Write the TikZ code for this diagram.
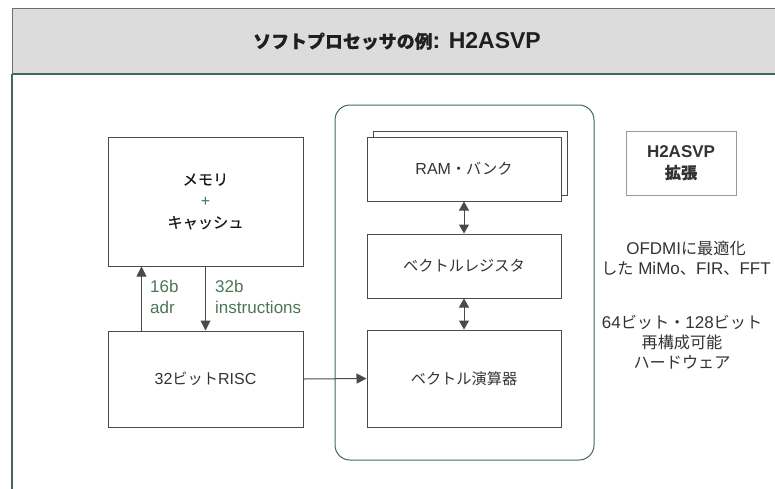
\documentclass[tikz,border=0pt]{standalone}
\usepackage{fontspec}
\setmainfont{Liberation Sans}
\newfontfamily\jpfont{Noto Sans CJK JP}[Scale=0.95]
\newfontfamily\jpstrong{Noto Sans CJK JP}[Scale=0.95, FakeBold=0.3]
\newfontfamily\jpbig{Noto Sans CJK JP}[Scale=0.78, FakeBold=0.45]
\newcommand\J[1]{{\jpfont #1}}
\usetikzlibrary{arrows.meta,calc}

\definecolor{hdrfill}{HTML}{DCDCDC}
\definecolor{hdrline}{HTML}{6E6E6E}
\definecolor{frame}{HTML}{416B50}
\definecolor{boxline}{HTML}{4A4A4A}
\definecolor{txt}{HTML}{333333}
\definecolor{lbl}{HTML}{4B7656}
\definecolor{lightbox}{HTML}{9A9A9A}

\tikzset{
  unitbox/.style={draw=boxline, line width=1pt, fill=white, inner sep=0pt,
    align=center, text=txt, font=\fontsize{16}{21.5}\selectfont},
  conn/.style={draw=boxline, line width=1pt,
    -{Triangle[length=10pt,width=10pt]}},
  biconn/.style={draw=boxline, line width=1pt,
    {Triangle[length=9pt,width=10pt]}-{Triangle[length=9pt,width=10pt]}},
  buslabel/.style={anchor=west, align=left, text=lbl, inner sep=0pt,
    font=\fontsize{17}{21}\selectfont},
  note/.style={align=center, text=txt, inner sep=0pt,
    font=\fontsize{17}{20}\selectfont},
}

\begin{document}
\begin{tikzpicture}[x=1pt,y=-1pt]
  \useasboundingbox (0,0) rectangle (775,488);

  % page frame and title bar
  \node[draw=hdrline, fill=hdrfill, line width=1pt, inner sep=0pt,
        minimum width=790pt, minimum height=65pt, anchor=north west]
        (hdr) at (12,8) {};
  \draw[frame, line width=1.3pt] (hdr.south west) -- (hdr.south east);
  \coordinate (frameend) at (12,500);
  \draw[frame, line width=1.3pt] (hdr.south west) -- (frameend);
  \node[text=black!88, inner sep=0pt, font=\fontsize{23}{23}\selectfont\bfseries]
        (title) at (397,41) {{\jpbig ソフトプロセッサの例}: H2ASVP};

  % scalar core and its memory
  \node[unitbox, minimum width=195pt, minimum height=129pt] (mem) at (205.5,201.5)
        {\textcolor{black!90}{\jpstrong メモリ}\\\textcolor{lbl}{+}\\\textcolor{black!90}{\jpstrong キャッシュ}};
  \node[unitbox, minimum width=195pt, minimum height=96pt] (risc) at (205.5,379)
        {32\J{ビット}RISC};

  \draw[conn] ($(risc.north west)+(34,0)$) -- ($(mem.south west)+(34,0)$);
  \draw[conn] (mem.south) -- (risc.north);
  \node[buslabel] (adr) at (150,297) {16b\\adr};
  \node[buslabel] (ins) at (215,297) {32b\\instructions};

  % vector unit
  \node[draw=frame, line width=1pt, rounded corners=15pt, inner sep=0pt,
        minimum width=259pt, minimum height=355pt] (vpu) at (464.5,282.5) {};
  \node[unitbox, minimum width=194pt, minimum height=64pt] (rambk) at (470,163) {};
  \node[unitbox, minimum width=194pt, minimum height=64pt] (ram) at (464,169)
        {RAM\J{・バンク}};
  \node[unitbox, minimum width=194pt, minimum height=64pt] (vreg) at (464,266)
        {\J{ベクトルレジスタ}};
  \node[unitbox, minimum width=194pt, minimum height=97pt] (valu) at (464,378.5)
        {\J{ベクトル演算器}};

  \draw[biconn] (ram.south) -- (vreg.north);
  \draw[biconn] (vreg.south) -- (valu.north);
  \draw[conn] (risc.east) -- (valu.west);

  % extension notes
  \node[draw=lightbox, line width=0.8pt, inner sep=0pt, align=center,
        minimum width=110pt, minimum height=64pt, text=txt,
        font=\fontsize{17}{21}\selectfont\bfseries] (ext) at (681,163)
        {H2ASVP\\{\jpstrong 拡張}};
  \node[note] (ofdm) at (686,258) {OFDMI\J{に最適化}\\\J{した} MiMo\J{、}FIR\J{、}FFT};
  \node[note] (hw) at (682,342) {64\J{ビット・}128\J{ビット}\\\J{再構成可能}\\\J{ハードウェア}};
\end{tikzpicture}
\end{document}
